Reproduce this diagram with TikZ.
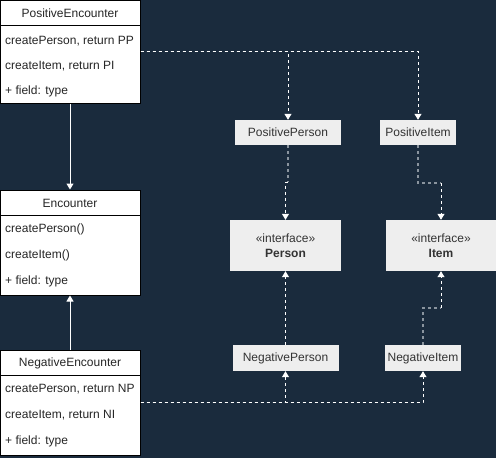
\documentclass[tikz,border=0pt]{standalone}
\usepackage{fontspec}
\setmainfont{Liberation Sans}
\usepackage{tikz}
\usetikzlibrary{arrows.meta}

\definecolor{bgnavy}{HTML}{1A2B3D}
\definecolor{boxgrey}{HTML}{EEEEEE}
\definecolor{txtgrey}{HTML}{333333}
\definecolor{linegrey}{HTML}{8A949E}

\tikzset{
  classbox/.style={rectangle, draw=black, fill=white, line width=1pt, minimum width=140pt, inner sep=0pt},
  classhead/.style={rectangle, inner sep=0pt, font=\fontsize{12}{14}\selectfont, text=black!85},
  classrow/.style={rectangle, inner sep=0pt, anchor=west, font=\fontsize{12}{14}\selectfont, text=black!85},
  implbox/.style={rectangle, fill=boxgrey, inner sep=0pt, font=\fontsize{12}{14}\selectfont, text=txtgrey},
  dep/.style={draw=white, line width=1pt, dash pattern=on 3pt off 3pt},
  depgrey/.style={draw=linegrey, line width=1.6pt, dash pattern=on 3pt off 3pt},
  tip/.style={-{Triangle[width=7pt,length=6pt,fill=white]}},
}

\begin{document}
\begin{tikzpicture}[x=1pt, y=-1pt]
  \fill[bgnavy] (0,0) rectangle (496,458);
  \useasboundingbox (0,0) rectangle (496,458);

  % classes on the left
  \node[classbox, minimum height=103pt] (pe) at (70,51.5) {};
  \node[classhead] (peh) at (70,13) {PositiveEncounter};
  \draw[line width=1pt] (pe.north west) ++(0,26) -- ++(140,0);
  \node[classrow] (pe1) at (5,41) {createPerson, return PP};
  \node[classrow] (pe2) at (5,66) {createItem, return PI};
  \node[classrow] (pe3) at (5,91) {+ field: type};

  \node[classbox, minimum height=105pt] (enc) at (70,242.5) {};
  \node[classhead] (ench) at (70,203) {Encounter};
  \draw[line width=1pt] (enc.north west) ++(0,26) -- ++(140,0);
  \node[classrow] (enc1) at (5,229) {createPerson()};
  \node[classrow] (enc2) at (5,255) {createItem()};
  \node[classrow] (enc3) at (5,281) {+ field: type};

  \node[classbox, minimum height=105pt] (ne) at (70,402.5) {};
  \node[classhead] (neh) at (70,363) {NegativeEncounter};
  \draw[line width=1pt] (ne.north west) ++(0,26) -- ++(140,0);
  \node[classrow] (ne1) at (5,389) {createPerson, return NP};
  \node[classrow] (ne2) at (5,415) {createItem, return NI};
  \node[classrow] (ne3) at (5,441) {+ field: type};

  % products
  \node[implbox, minimum width=106pt, minimum height=25pt] (pp) at (288,132.5) {PositivePerson};
  \node[implbox, minimum width=76pt, minimum height=25pt] (pi) at (418,132.5) {PositiveItem};
  \node[implbox, minimum width=111pt, minimum height=51pt, align=center] (person) at (285.5,245.5) {«interface»\\[1pt]\textbf{Person}};
  \node[implbox, minimum width=110pt, minimum height=51pt, align=center] (item) at (441,245.5) {«interface»\\[1pt]\textbf{Item}};
  \node[implbox, minimum width=106pt, minimum height=26pt] (np) at (285.5,358) {NegativePerson};
  \node[implbox, minimum width=76pt, minimum height=26pt] (ni) at (423,358) {NegativeItem};

  % inheritance
  \draw[white, line width=1pt, tip] (pe.south) -- (enc.north);
  \draw[white, line width=1pt, tip] (ne.north) -- (enc.south);

  % creates
  \draw[dep, tip] (pe.east) -| (pp.north);
  \draw[dep, tip] (pe.east) -| (pi.north);
  \draw[dep, tip] (ne.east) -| (np.south);
  \draw[dep, tip] (ne.east) -| (ni.south);

  % realizes
  \draw[depgrey] (pp.south) -- ++(0,37) coordinate (ppj);
  \draw[dep, tip] (ppj) -| (person.north);
  \draw[depgrey] (pi.south) -- ++(0,38) coordinate (pij) -- (pij -| item.north) coordinate (pik);
  \draw[dep, tip] (pik) -- (item.north);
  \draw[dep, tip] (np.north) -- (person.south);
  \draw[depgrey] (ni.north) -- ++(0,-37) coordinate (nij) -- (nij -| item.south) coordinate (nik);
  \draw[dep, tip] (nik) -- (item.south);
\end{tikzpicture}
\end{document}
